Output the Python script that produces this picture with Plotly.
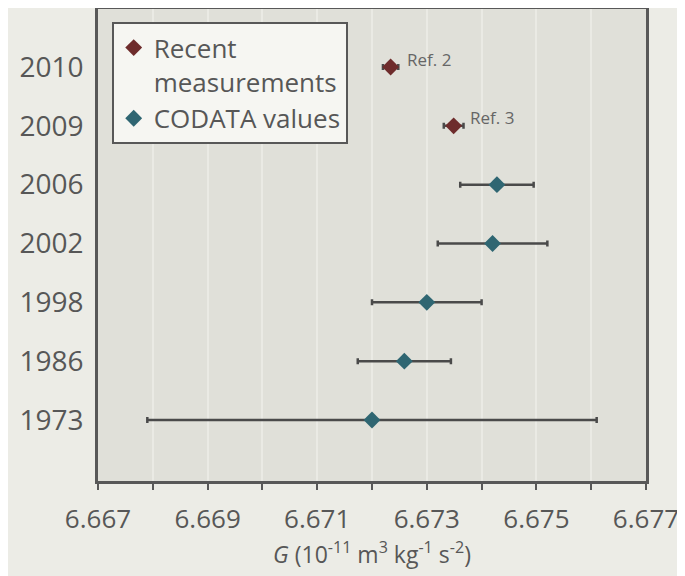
import plotly.graph_objects as go

years = ["1973", "1986", "1998", "2002", "2006", "2009", "2010"]
codata_years = ["1973", "1986", "1998", "2002", "2006"]
codata_G = [6.6720, 6.67259, 6.6730, 6.6742, 6.67428]
codata_err = [0.0041, 0.00085, 0.0010, 0.0010, 0.00067]
recent_years = ["2010", "2009"]
recent_G = [6.67234, 6.67349]
recent_err = [0.00014, 0.00018]
recent_refs = ["Ref. 2", "Ref. 3"]
x_ticks = [6.667, 6.669, 6.671, 6.673, 6.675, 6.677]

ypos = {y: i for i, y in enumerate(years)}
FONT = "Open Sans"
TXT = "#575757"
ERRC = "#4a4a4a"
AXC = "#585858"

fig = go.Figure()
fig.add_trace(go.Scatter(
    x=recent_G, y=[ypos[y] for y in recent_years], mode="markers",
    name="Recent<br>measurements",
    marker=dict(symbol="diamond", size=13, color="#6e2c2c"),
    error_x=dict(type="data", array=recent_err, color=ERRC, thickness=2.5, width=3),
))
fig.add_trace(go.Scatter(
    x=codata_G, y=[ypos[y] for y in codata_years], mode="markers",
    name="CODATA values",
    marker=dict(symbol="diamond", size=13, color="#2f6672"),
    error_x=dict(type="data", array=codata_err, color=ERRC, thickness=2.5, width=3),
))

for g, y, r, ys in zip(recent_G, recent_years, recent_refs, [8, 8]):
    fig.add_annotation(x=g, y=ypos[y], text=r, showarrow=False,
                       xanchor="left", yanchor="middle", xshift=14, yshift=ys,
                       font=dict(family=FONT, size=17, color="#666666"))

fig.update_layout(
    width=677, height=568,
    margin=dict(l=90, r=39, t=1, b=95),
    paper_bgcolor="#ececE6",
    plot_bgcolor="#e0e0d9",
    font=dict(family=FONT, color=TXT),
    showlegend=True,
    legend=dict(x=0.025, y=0.972, xanchor="left", yanchor="top",
                bgcolor="#f6f6f2", bordercolor=AXC, borderwidth=2,
                font=dict(family=FONT, size=26, color=TXT),
                valign="top", tracegroupgap=10, itemwidth=30),
)
fig.update_xaxes(
    range=[6.667, 6.677], tickvals=x_ticks,
    ticktext=[f"{v:.3f}" for v in x_ticks],
    tickfont=dict(family=FONT, size=26, color=TXT),
    ticks="outside", ticklen=6, tickwidth=2, tickcolor=AXC,
    ticklabelstandoff=7,
    showgrid=True, gridcolor="#eaeae4", gridwidth=1.5,
    minor=dict(dtick=0.001, tick0=6.667, ticks="outside", ticklen=6, tickwidth=2,
               tickcolor=AXC, showgrid=True, gridcolor="#eaeae4", gridwidth=1.5),
    showline=True, linecolor=AXC, linewidth=2.5, mirror=True,
    zeroline=False, automargin=False,
    title=dict(text="<i>G</i> (10<sup>-11</sup> m<sup>3</sup> kg<sup>-1</sup> s<sup>-2</sup>)",
               font=dict(family=FONT, size=23, color=TXT), standoff=6),
)
fig.update_yaxes(
    range=[-1.037, 6.986], tickvals=list(range(len(years))), ticktext=years,
    tickfont=dict(family=FONT, size=28, color=TXT),
    showgrid=False, zeroline=False, ticks="", ticklabelstandoff=6,
    showline=True, linecolor=AXC, linewidth=2.5, mirror=True,
    automargin=False,
)

fig.write_html("out.html")
